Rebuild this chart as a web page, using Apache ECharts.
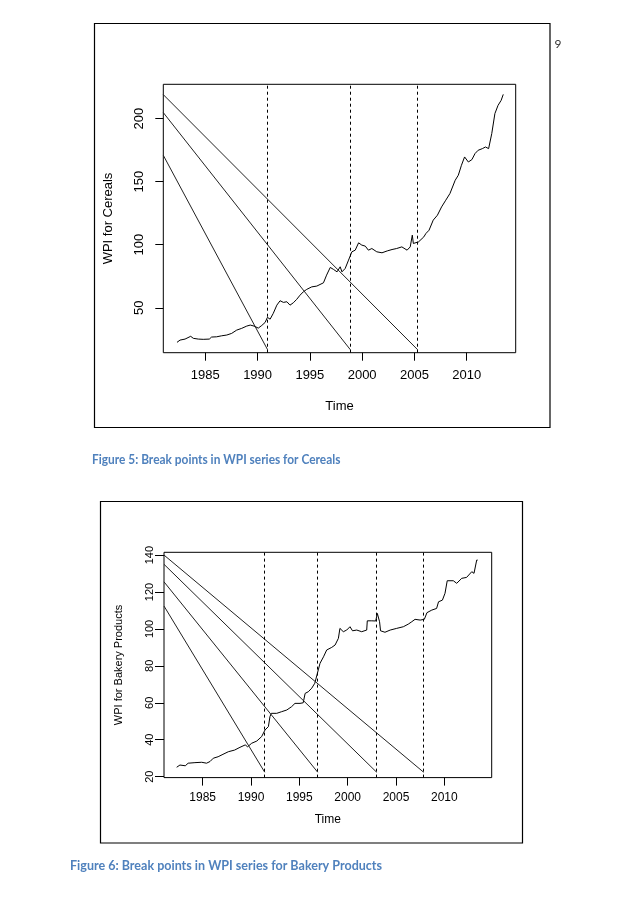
<!DOCTYPE html>
<html>
<head>
<meta charset="utf-8">
<script src="https://cdn.jsdelivr.net/npm/echarts@6/dist/echarts.min.js"></script>
<style>
html,body{margin:0;padding:0;background:#fff;}
#chart{width:638px;height:903px;}
</style>
</head>
<body>
<div id="chart"></div>
<script>
// ---------- Figure 5 : WPI for Cereals ----------
const cerealYears = [1982.29,1982.58,1983.06,1983.6,1983.85,1984.33,1984.8,1985.38,1985.6,1986.08,1986.56,1987.05,1987.52,1988.0,1988.48,1988.96,1989.3,1989.66,1990.07,1990.4,1990.72,1990.94,1991.2,1991.5,1991.84,1992.15,1992.47,1992.8,1993.1,1993.42,1993.74,1994.06,1994.38,1994.7,1995.18,1995.66,1996.3,1996.6,1996.95,1997.27,1997.6,1997.9,1998.07,1998.38,1998.7,1999.02,1999.34,1999.66,1999.97,2000.3,2000.6,2000.93,2001.4,2001.9,2002.4,2002.86,2003.3,2003.8,2004.3,2004.6,2004.8,2004.9,2005.4,2005.9,2006.1,2006.4,2006.8,2007.2,2007.6,2008.0,2008.4,2008.9,2009.2,2009.5,2009.8,2010.16,2010.5,2010.8,2011.1,2011.5,2011.8,2012.1,2012.4,2012.7,2013.0,2013.3,2013.5];
const cerealValues = [22.6,24.4,25.2,27.4,25.8,25.2,25.0,25.2,26.8,27.0,27.8,28.4,29.7,32.3,33.7,35.5,36.3,35.5,33.9,36.0,38.4,42.4,41.0,45.6,52.1,55.6,54.3,54.8,52.1,54.0,56.7,60.0,62.7,64.6,66.6,67.2,69.8,75.9,82.0,80.4,78.5,82.5,78.5,81.2,87.8,94.4,95.7,101.5,99.7,98.9,95.7,97.0,94.4,93.6,95.1,96.2,97.0,98.3,95.7,98.3,107.6,101.0,102.3,106.2,108.9,111.5,119.5,123.4,130.0,135.3,140.6,151.1,155.1,163.0,169.6,165.6,167.5,172.3,174.9,176.2,177.5,176.2,188.1,204.0,210.5,214.5,219.2];
const cerealBreaks = [1990.96, 1998.88, 2005.32];
const cerealLineStart = [170.9, 204.75, 219.0];
const cerealLineEnd = [16.7, 16.7, 16.7];
const cerealYTicks = [50, 100, 150, 200];

// ---------- Figure 6 : WPI for Bakery Products ----------
const bakeryYears = [1982.31,1982.65,1983.2,1983.5,1984.2,1984.9,1985.4,1985.76,1986.1,1986.6,1987.1,1987.65,1988.3,1988.86,1989.4,1989.65,1990.07,1990.6,1991.1,1991.45,1991.8,1991.96,1992.1,1992.66,1993.17,1993.7,1994.2,1994.55,1995.07,1995.4,1995.6,1995.93,1996.28,1996.6,1996.8,1996.96,1997.14,1997.5,1997.83,1998.35,1998.7,1999.04,1999.2,1999.55,1999.9,2000.24,2000.5,2000.94,2001.45,2001.97,2002.03,2002.5,2002.9,2003.07,2003.3,2003.4,2003.86,2004.4,2005.07,2005.76,2006.27,2006.63,2006.97,2007.5,2007.93,2008.2,2008.7,2009.2,2009.4,2009.8,2010.07,2010.3,2010.93,2011.28,2011.8,2012.3,2012.84,2013.07,2013.35,2013.45];
const bakeryValues = [25.1,26.3,25.9,27.3,27.6,27.8,27.3,28.2,30.0,30.8,32.1,33.5,34.4,35.9,37.2,36.2,38.1,39.3,41.7,45.3,47.1,52.5,54.3,54.3,55.2,56.1,57.9,59.7,59.7,60.0,65.1,66.0,67.9,70.6,71.4,77.8,81.4,84.9,88.6,90.0,91.3,94.9,100.3,98.5,99.4,101.2,99.0,99.4,98.5,99.4,104.4,104.4,104.3,108.4,103.9,99.0,98.2,99.4,100.3,101.2,102.6,103.9,105.2,104.8,105.2,108.8,110.2,111.1,114.7,115.6,119.3,126.1,126.1,124.7,127.4,127.9,131.0,130.1,137.3,137.3];
const bakeryBreaks = [1991.42, 1996.9, 2003.0, 2007.86];
const bakeryLineStart = [112.4, 125.5, 135.0, 140.0];
const bakeryLineEnd = [22.4, 22.4, 22.4, 22.4];
const bakeryYTicks = [20, 40, 60, 80, 100, 120, 140];

const xTicks = [1985, 1990, 1995, 2000, 2005, 2010];

// axis extents (R adds 4% padding)
const cerealXRange = [1980.98, 2014.69];
const cerealYRange = [14.4, 227.2];
const bakeryXRange = [1981.0, 2014.9];
const bakeryYRange = [19.5, 141.5];

const FONT = 'Liberation Sans, Arial, sans-serif';
const CAPTION_COLOR = '#4f81bd';

function zip(xs, ys){ return xs.map((x,i)=>[x, ys[i]]); }

function xAxisCfg(gridIndex, range, fs, margin, nameGap, tickLen){
  return {
    type:'value', gridIndex, min:range[0], max:range[1],
    name:'Time', nameLocation:'middle', nameGap,
    nameTextStyle:{color:'#000', fontFamily:FONT, fontSize:fs},
    axisLine:{show:false},
    splitLine:{show:false},
    axisTick:{show:true, inside:false, length:tickLen, customValues:xTicks, lineStyle:{color:'#000', width:1}},
    axisLabel:{show:true, customValues:xTicks, margin, color:'#000', fontFamily:FONT, fontSize:fs, formatter:v=>String(v)}
  };
}
function yAxisCfg(gridIndex, range, ticks, name, fs, nfs, margin, nameGap, tickLen){
  return {
    type:'value', gridIndex, min:range[0], max:range[1],
    name, nameLocation:'middle', nameGap, nameRotate:90,
    nameTextStyle:{color:'#000', fontFamily:FONT, fontSize:nfs},
    axisLine:{show:false},
    splitLine:{show:false},
    axisTick:{show:true, inside:false, length:tickLen, customValues:ticks, lineStyle:{color:'#000', width:1}},
    axisLabel:{show:true, rotate:90, customValues:ticks, margin, color:'#000', fontFamily:FONT, fontSize:fs, formatter:v=>String(v)}
  };
}

function dataSeries(idx, xs, ys, breaks){
  return {
    type:'line', xAxisIndex:idx, yAxisIndex:idx, data:zip(xs,ys),
    showSymbol:false, symbol:'none', silent:true, animation:false,
    lineStyle:{color:'#000', width:1},
    markLine:{
      silent:true, symbol:['none','none'], animation:false,
      label:{show:false},
      lineStyle:{color:'#000', width:1, type:[3,3]},
      data:breaks.map(b=>({xAxis:b}))
    }
  };
}
function diagSeries(idx, xStart, starts, breaks, ends){
  return starts.map((s,i)=>({
    type:'line', xAxisIndex:idx, yAxisIndex:idx,
    data:[[xStart, s],[breaks[i], ends[i]]],
    showSymbol:false, symbol:'none', silent:true, animation:false,
    lineStyle:{color:'#222', width:1}
  }));
}

const chart = echarts.init(document.getElementById('chart'), null, {renderer:'canvas'});
chart.setOption({
  backgroundColor:'#fff',
  animation:false,
  grid:[
    {left:163.3, top:84.3, width:352.4, height:268.4, show:true, borderColor:'#000', borderWidth:1, backgroundColor:'transparent'},
    {left:164, top:552.3, width:327.7, height:225.3, show:true, borderColor:'#000', borderWidth:1, backgroundColor:'transparent'}
  ],
  xAxis:[
    xAxisCfg(0, cerealXRange, 13, 16, 47, 8),
    xAxisCfg(1, bakeryXRange, 12, 14.5, 36, 8)
  ],
  yAxis:[
    yAxisCfg(0, cerealYRange, cerealYTicks, 'WPI for Cereals', 13, 13, 17, 48, 8),
    yAxisCfg(1, bakeryYRange, bakeryYTicks, 'WPI for Bakery Products', 11, 11, 8.5, 40, 9)
  ],
  series:[
    dataSeries(0, cerealYears, cerealValues, cerealBreaks),
    ...diagSeries(0, cerealXRange[0], cerealLineStart, cerealBreaks, cerealLineEnd),
    dataSeries(1, bakeryYears, bakeryValues, bakeryBreaks),
    ...diagSeries(1, bakeryXRange[0], bakeryLineStart, bakeryBreaks, bakeryLineEnd)
  ],
  graphic:[
    {type:'rect', shape:{x:94.5, y:23.5, width:455.5, height:404}, style:{fill:'none', stroke:'#000', lineWidth:1.2}, silent:true},
    {type:'rect', shape:{x:100.5, y:501.5, width:422, height:341.5}, style:{fill:'none', stroke:'#000', lineWidth:1.2}, silent:true},
    {type:'text', x:558, y:44, style:{text:'9', fill:'#333', font:'12px Lato, sans-serif', textAlign:'center', textVerticalAlign:'middle'}, silent:true},
    {type:'text', x:92, y:460, scaleX:0.916, style:{text:'Figure 5: Break points in WPI series for Cereals', fill:CAPTION_COLOR, font:'bold 13px Lato, sans-serif', textAlign:'left', textVerticalAlign:'middle'}, silent:true},
    {type:'text', x:70, y:866, scaleX:0.964, style:{text:'Figure 6: Break points in WPI series for Bakery Products', fill:CAPTION_COLOR, font:'bold 13px Lato, sans-serif', textAlign:'left', textVerticalAlign:'middle'}, silent:true}
  ]
});
</script>
</body>
</html>
